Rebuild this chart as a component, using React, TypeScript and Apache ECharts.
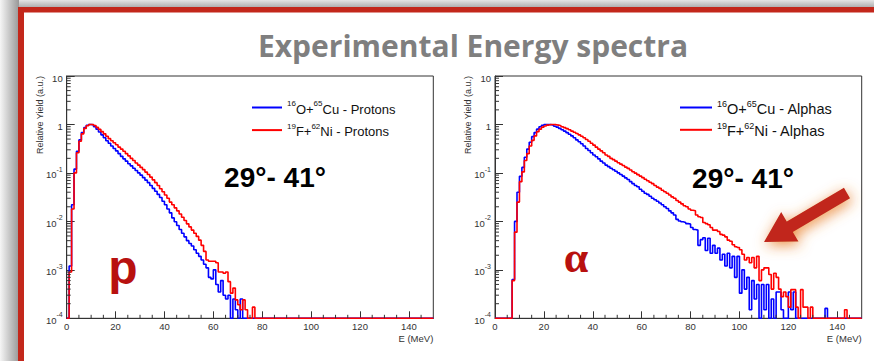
import React, { useEffect, useRef } from "react";
import * as echarts from "echarts";

// Histogram range (MeV) and log-scale yield range
const E_MIN = 0;
const E_MAX = 150;
const Y_MIN = 1e-4;
const Y_MAX = 10;

// Bin contents, 1 MeV bins starting at 0 MeV (relative yield, peak = 1)
const protonsCu = [
  0, 0.0012, 0.022, 0.12, 0.28, 0.48, 0.68, 0.86, 0.96, 1.0,
  0.98, 0.9, 0.8, 0.7, 0.61, 0.53, 0.46, 0.41, 0.36, 0.32,
  0.285, 0.25, 0.22, 0.195, 0.175, 0.155, 0.14, 0.125, 0.112, 0.1,
  0.09, 0.08, 0.071, 0.063, 0.055, 0.048, 0.042, 0.036, 0.031, 0.026,
  0.022, 0.018, 0.015, 0.0118, 0.0098, 0.0082, 0.0068, 0.0057, 0.0048, 0.004,
  0.0035, 0.0031, 0.0026, 0.0022, 0.0019, 0.0016, 0.0013, 0.0011, 0.0007, 0.00065,
  0.001, 0.0005, 0.00035, 0.0006, 0.0003, 0.00025, 0.0003, 0, 0.00025, 0.00015,
  0, 0.00025, 0,
];

const protonsNi = [
  0, 0.0009, 0.018, 0.1, 0.26, 0.45, 0.64, 0.83, 0.94, 1.0,
  1.0, 0.95, 0.87, 0.79, 0.71, 0.64, 0.57, 0.51, 0.46, 0.42,
  0.38, 0.34, 0.31, 0.28, 0.25, 0.225, 0.2, 0.18, 0.16, 0.145,
  0.13, 0.117, 0.104, 0.093, 0.082, 0.072, 0.063, 0.055, 0.047, 0.041,
  0.035, 0.03, 0.025, 0.022, 0.019, 0.0165, 0.0142, 0.0122, 0.0104, 0.0089,
  0.0077, 0.0066, 0.0057, 0.0049, 0.0041, 0.0032, 0.0024, 0.0016, 0.0015, 0.0015,
  0.0015, 0.0014, 0.0009, 0.0009, 0.00085, 0.0009, 0.00057, 0.00033, 0.00042, 0.00024,
  0.00019, 0.00015, 0.00024, 0.00015, 0, 0, 0.00017, 0,
];

const alphasCu = [
  0, 0, 0, 0, 0, 0, 0, 0.00063, 0.01, 0.04,
  0.085, 0.13, 0.21, 0.31, 0.43, 0.56, 0.68, 0.8, 0.9, 0.96,
  1.0, 1.0, 0.99, 0.96, 0.92, 0.88, 0.83, 0.78, 0.73, 0.68,
  0.63, 0.58, 0.53, 0.48, 0.44, 0.4, 0.36, 0.32, 0.29, 0.26,
  0.235, 0.215, 0.195, 0.175, 0.16, 0.145, 0.135, 0.125, 0.116, 0.108,
  0.1, 0.093, 0.086, 0.079, 0.073, 0.066, 0.06, 0.055, 0.052, 0.046,
  0.042, 0.038, 0.036, 0.033, 0.03, 0.028, 0.026, 0.024, 0.022, 0.02,
  0.0185, 0.0165, 0.015, 0.0135, 0.011, 0.0102, 0.0098, 0.0095, 0.009, 0.0088,
  0.0075, 0.0068, 0.0066, 0.0032, 0.0042, 0.0046, 0.0025, 0.0045, 0.0022, 0.0032,
  0.0022, 0.0028, 0.0016, 0.0021, 0.0012, 0.0022, 0.0011, 0.0019, 0.0007, 0.0019,
  0.00033, 0.001, 0.0004, 0.0007, 0.00015, 0.0006, 0.00025, 0.0005, 0, 0.0005,
  0.00015, 0.0005, 0, 0.00025, 0, 0.00035, 0.00035, 0.00015, 0, 0,
  0.00035, 0.00015, 0.00035, 0, 0, 0, 0, 0, 0, 0,
  0, 0, 0, 0, 0, 0.00016,
];

const alphasNi = [
  0, 0, 0, 0, 0, 0, 0, 0.0006, 0.006, 0.025,
  0.066, 0.105, 0.18, 0.25, 0.36, 0.47, 0.58, 0.71, 0.8, 0.88,
  0.93, 0.97, 1.0, 1.0, 0.99, 0.97, 0.94, 0.9, 0.86, 0.82,
  0.78, 0.73, 0.69, 0.65, 0.61, 0.57, 0.53, 0.49, 0.45, 0.41,
  0.375, 0.34, 0.31, 0.285, 0.26, 0.235, 0.22, 0.2, 0.188, 0.175,
  0.162, 0.152, 0.142, 0.132, 0.124, 0.115, 0.106, 0.099, 0.092, 0.086,
  0.08, 0.074, 0.069, 0.064, 0.06, 0.055, 0.051, 0.048, 0.044, 0.041,
  0.038, 0.035, 0.032, 0.03, 0.027, 0.025, 0.023, 0.021, 0.02, 0.018,
  0.017, 0.0165, 0.0135, 0.0125, 0.012, 0.0095, 0.009, 0.0085, 0.0075, 0.0066,
  0.0066, 0.0062, 0.0054, 0.0052, 0.0048, 0.0041, 0.0039, 0.0033, 0.003, 0.0029,
  0.0026, 0.0021, 0.0016, 0.0018, 0.0014, 0.0018, 0.0011, 0.0019, 0.0006, 0.001,
  0.0011, 0.0011, 0.0008, 0.0004, 0.00085, 0.0007, 0.0004, 0.00028, 0.00035, 0.00028,
  0.00017, 0.00039, 0.00039, 0.00017, 0, 0.00039, 0.00017, 0.00017, 0, 0.00017,
  0, 0, 0, 0, 0, 0, 0, 0, 0, 0,
  0, 0, 0, 0.00015,
];

const protonNames = ["16O+65Cu - Protons", "19F+62Ni - Protons"];
const alphaNames = ["16O+65Cu - Alphas", "19F+62Ni - Alphas"];

// Secondary tick positions
const xMinorTicks = [5, 10, 15, 25, 30, 35, 45, 50, 55, 65, 70, 75, 85, 90, 95, 105, 110, 115, 125, 130, 135, 145];
const yDecades = [1e-4, 1e-3, 1e-2, 1e-1, 1];
const yMantissas = [2, 3, 4, 5, 6, 7, 8, 9];

const BLUE = "#0000ff";
const RED = "#ff0000";
const FRAME_RED = "#c3271b";
const AXIS = "#333333";
const LABEL_FONT = "Liberation Sans";

// Two ROOT-style pads
const PADS = [
  { left: 66.7, top: 76, width: 366.6, height: 242.3 },
  { left: 495, top: 76, width: 366.7, height: 242.3 },
];

function histogramPoints(counts: number[]): [number, number][] {
  const pts: [number, number][] = [];
  for (let i = E_MIN; i < E_MAX; i++) {
    const v = i < counts.length ? counts[i] : 0;
    // empty bins sit on the bottom of the frame
    pts.push([i, Math.max(v, Y_MIN)]);
  }
  pts.push([E_MAX, pts[pts.length - 1][1]]);
  return pts;
}

function isotopeRich(label: string) {
  return label
    .split(/(\d+)/)
    .filter((s) => s.length > 0)
    .map((s) => (/^\d+$/.test(s) ? `{s|${s}}` : `{n|${s}}`))
    .join("");
}

function logLabel(v: number) {
  const k = Math.round(Math.log10(v));
  if (k === 1) return "{b|10}";
  if (k === 0) return "{b|1}";
  return `{b|10}{s|${k}}`;
}

function arrowPoints(tail: number[], tip: number[], headLen: number, headHalf: number, shaftHalf: number) {
  const dx = tip[0] - tail[0];
  const dy = tip[1] - tail[1];
  const len = Math.hypot(dx, dy);
  const ux = dx / len, uy = dy / len;
  const nx = -uy, ny = ux;
  const bx = tip[0] - ux * headLen, by = tip[1] - uy * headLen;
  return [
    [tail[0] + nx * shaftHalf, tail[1] + ny * shaftHalf],
    [bx + nx * shaftHalf, by + ny * shaftHalf],
    [bx + nx * headHalf, by + ny * headHalf],
    [tip[0], tip[1]],
    [bx - nx * headHalf, by - ny * headHalf],
    [bx - nx * shaftHalf, by - ny * shaftHalf],
    [tail[0] - nx * shaftHalf, tail[1] - ny * shaftHalf],
  ];
}

export default function App() {
  const ref = useRef<HTMLDivElement>(null);

  useEffect(() => {
    if (!ref.current) return;
    const chart = echarts.init(ref.current, null, { renderer: "svg" });

    const yMinor = yDecades.flatMap((d) => yMantissas.map((m) => m * d));
    const tickData = [
      ...xMinorTicks.map((e) => [e, Y_MIN, 0]),
      ...yMinor.map((v) => [E_MIN, v, 1]),
    ];

    const grids = PADS.map((g) => ({
      ...g,
      show: true,
      borderColor: AXIS,
      borderWidth: 1,
      backgroundColor: "transparent",
    }));

    const xAxis = [0, 1].map((i) => ({
      gridIndex: i,
      type: "value",
      min: E_MIN,
      max: E_MAX,
      interval: 20,
      axisLine: { show: true, onZero: false, lineStyle: { color: AXIS, width: 1 } },
      axisTick: { show: true, inside: true, length: 7, lineStyle: { color: AXIS } },
      axisLabel: { color: AXIS, fontSize: 9.5, fontFamily: LABEL_FONT, margin: 3, showMaxLabel: false },
      splitLine: { show: false },
    }));

    const yAxis = [0, 1].map((i) => ({
      gridIndex: i,
      type: "log",
      logBase: 10,
      min: Y_MIN,
      max: Y_MAX,
      axisLine: { show: true, onZero: false, lineStyle: { color: AXIS, width: 1 } },
      axisTick: { show: true, inside: true, length: 8, lineStyle: { color: AXIS } },
      axisLabel: {
        margin: 4,
        formatter: logLabel,
        rich: {
          b: { fontSize: 9.5, color: AXIS, fontFamily: LABEL_FONT, verticalAlign: "bottom", lineHeight: 14 },
          s: { fontSize: 7, color: AXIS, fontFamily: LABEL_FONT, verticalAlign: "top" },
        },
      },
      splitLine: { show: false },
    }));

    const histo = (name: string, counts: number[], color: string, gi: number, z: number) => ({
      type: "line",
      name,
      xAxisIndex: gi,
      yAxisIndex: gi,
      data: histogramPoints(counts),
      step: "end",
      symbol: "none",
      showSymbol: false,
      color,
      lineStyle: { color, width: 1.6 },
      z,
      silent: true,
    });

    const ticks = (gi: number) => ({
      type: "custom",
      xAxisIndex: gi,
      yAxisIndex: gi,
      silent: true,
      clip: false,
      z: 6,
      data: tickData,
      renderItem: (_params: any, api: any) => {
        const p = api.coord([api.value(0), api.value(1)]);
        const vertical = api.value(2) === 0;
        return {
          type: "line",
          shape: vertical
            ? { x1: p[0], y1: p[1], x2: p[0], y2: p[1] - 3.5 }
            : { x1: p[0], y1: p[1], x2: p[0] + 4, y2: p[1] },
          style: { stroke: AXIS, lineWidth: 1 },
        };
      },
    });

    const legendRich = (size: number, lh: number) => ({
      n: { fontSize: size, color: "#111", fontFamily: LABEL_FONT, lineHeight: lh, verticalAlign: "bottom" },
      s: { fontSize: Math.round(size * 0.65), color: "#111", fontFamily: LABEL_FONT, verticalAlign: "top" },
    });

    const txt = (text: string, x: number, y: number, font: string, fill: string, align = "center", rotation = 0) => ({
      type: "text",
      silent: true,
      z: 20,
      x,
      y,
      rotation,
      style: {
        text,
        x: 0,
        y: 0,
        font,
        fill,
        align,
        textAlign: align,
        verticalAlign: "middle",
        textVerticalAlign: "middle",
      },
    });

    const arrow = arrowPoints([847, 193], [764, 242], 30, 17, 6);

    const padTexts = PADS.flatMap((p) => [
      txt("Relative Yield (a.u.)", p.left - 27, p.top, `9px "${LABEL_FONT}"`, AXIS, "right", Math.PI / 2),
      txt("E (MeV)", p.left + p.width, p.top + p.height + 20.5, `9.5px "${LABEL_FONT}"`, AXIS, "right"),
    ]);

    chart.setOption({
      animation: false,
      backgroundColor: "#ffffff",
      grid: grids,
      xAxis,
      yAxis,
      legend: [
        {
          data: protonNames,
          orient: "vertical",
          left: 247,
          top: 94.5,
          itemWidth: 30,
          itemHeight: 2,
          itemGap: 6.6,
          icon: "rect",
          selectedMode: false,
          formatter: (name: string) => isotopeRich(name),
          textStyle: { rich: legendRich(13, 16) },
        },
        {
          data: alphaNames,
          orient: "vertical",
          left: 675,
          top: 94,
          itemWidth: 32,
          itemHeight: 2,
          itemGap: 5.3,
          icon: "rect",
          selectedMode: false,
          formatter: (name: string) => isotopeRich(name),
          textStyle: { rich: legendRich(14.5, 17) },
        },
      ],
      series: [
        histo(protonNames[0], protonsCu, BLUE, 0, 3),
        histo(protonNames[1], protonsNi, RED, 0, 4),
        histo(alphaNames[0], alphasCu, BLUE, 1, 3),
        histo(alphaNames[1], alphasNi, RED, 1, 4),
        ticks(0),
        ticks(1),
      ],
      graphic: {
        elements: [
          // slide shadow around the frame
          {
            type: "rect",
            silent: true,
            z: -10,
            shape: { x: 0, y: 0, width: 874, height: 8 },
            style: {
              fill: new echarts.graphic.LinearGradient(0, 0, 0, 1, [
                { offset: 0, color: "#e4e4e4" },
                { offset: 1, color: "#a9a9a9" },
              ]),
            },
          },
          {
            type: "rect",
            silent: true,
            z: -9,
            shape: { x: 0, y: 0, width: 19, height: 361 },
            style: {
              fill: new echarts.graphic.LinearGradient(0, 0, 1, 0, [
                { offset: 0, color: "#f6f6f6" },
                { offset: 1, color: "#989898" },
              ]),
            },
          },
          // red slide frame
          { type: "rect", silent: true, z: -5, shape: { x: 18, y: 7, width: 856, height: 5.5 }, style: { fill: FRAME_RED } },
          { type: "rect", silent: true, z: -5, shape: { x: 18, y: 7, width: 6, height: 354 }, style: { fill: FRAME_RED } },
          txt("Experimental Energy spectra", 473, 45, `bold 30px "Open Sans"`, "#7f7f7f"),
          ...padTexts,
          txt("29°- 41°", 275, 177, `bold 28px "${LABEL_FONT}"`, "#000"),
          txt("29°- 41°", 743, 178, `bold 28px "${LABEL_FONT}"`, "#000"),
          txt("p", 123, 267, `bold 48px "${LABEL_FONT}"`, "#b8110f"),
          txt("α", 576, 257, `bold 44px "Liberation Serif"`, "#b8110f"),
          {
            type: "polygon",
            silent: true,
            z: 25,
            shape: { points: arrow },
            style: {
              fill: "#c1261a",
              shadowBlur: 14,
              shadowColor: "rgba(232,130,45,0.9)",
              shadowOffsetX: 2,
              shadowOffsetY: 3,
            },
          },
        ],
      },
    });

    return () => chart.dispose();
  }, []);

  return (
    <div
      ref={ref}
      style={{ position: "absolute", left: 0, top: 0, width: 874, height: 361 }}
    />
  );
}
